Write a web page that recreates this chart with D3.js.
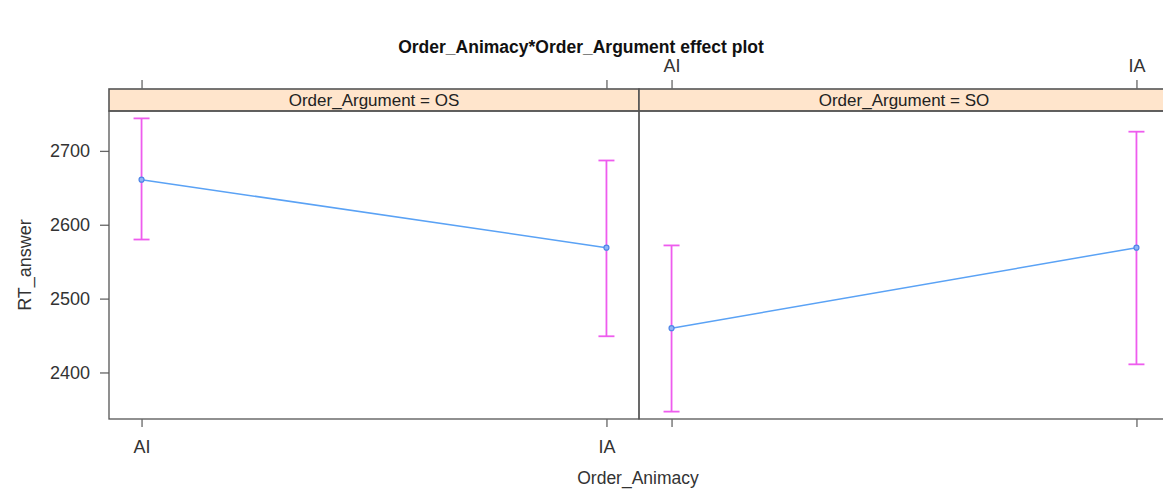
<!DOCTYPE html>
<html>
<head>
<meta charset="utf-8">
<script src="https://cdn.jsdelivr.net/npm/d3@7"></script>
<style>
  html, body { margin: 0; padding: 0; background: #fff; }
  svg { display: block; font-family: "Liberation Sans", Arial, sans-serif; }
</style>
</head>
<body>
<svg id="chart" width="1163" height="490"></svg>
<script>
const categories = ["AI", "IA"];
const panels = ["OS", "SO"];
const fitOS = [2661, 2569];
const lowerOS = [2580, 2449];
const upperOS = [2744, 2687];
const fitSO = [2460, 2569];
const lowerSO = [2347, 2411];
const upperSO = [2572, 2726];
const yTicks = [2400, 2500, 2600, 2700];

const panelData = [
  { name: panels[0], fit: fitOS, lower: lowerOS, upper: upperOS },
  { name: panels[1], fit: fitSO, lower: lowerSO, upper: upperSO }
];

const svg = d3.select("#chart");
const left = 109, panelW = 530, stripTop = 89, stripH = 22;
const plotTop = stripTop + stripH, plotBottom = 419;
const axisCol = "#666";
const textCol = "#333";
const FONT = "Liberation Sans, Arial, sans-serif";

const y = d3.scaleLinear().domain([2337, 2754]).range([plotBottom, plotTop]);

// title
svg.append("text")
  .attr("x", 581).attr("y", 53)
  .attr("text-anchor", "middle")
  .attr("font-size", 17.5).attr("font-weight", "bold")
  .attr("fill", "#111")
  .text("Order_Animacy*Order_Argument effect plot");

// y axis
const yAxis = d3.axisLeft(y).tickValues(yTicks).tickFormat(d3.format("d")).tickSize(9).tickPadding(10);
const ya = svg.append("g").attr("transform", `translate(${left},0)`).call(yAxis);
ya.attr("font-size", null).attr("font-family", null);
ya.select(".domain").remove();
ya.selectAll("line").attr("stroke", axisCol).attr("stroke-width", 1.3);
ya.selectAll("text").attr("font-size", 18).attr("fill", textCol).attr("font-family", FONT);

svg.append("text")
  .attr("transform", `translate(31,${(plotTop + plotBottom) / 2}) rotate(-90)`)
  .attr("text-anchor", "middle")
  .attr("font-size", 18).attr("fill", textCol)
  .text("RT_answer");

svg.append("text")
  .attr("x", 638).attr("y", 484)
  .attr("text-anchor", "middle")
  .attr("font-size", 17.5).attr("fill", textCol)
  .text("Order_Animacy");

panelData.forEach((p, i) => {
  const x0 = left + i * panelW;
  const x = d3.scalePoint().domain(categories).range([x0, x0 + panelW]).padding(0.07);
  const g = svg.append("g");

  // bottom axis
  const bAxis = d3.axisBottom(x).tickSize(8).tickPadding(13);
  const ba = svg.append("g").attr("transform", `translate(0,${plotBottom})`).call(bAxis);
  ba.attr("font-size", null).attr("font-family", null);
  ba.select(".domain").remove();
  ba.selectAll("line").attr("stroke", axisCol).attr("stroke-width", 1.3);
  ba.selectAll("text").attr("font-size", 18).attr("fill", textCol).attr("font-family", FONT)
    .style("display", i === 0 ? null : "none");

  // top axis
  const tAxis = d3.axisTop(x).tickSize(9).tickPadding(8);
  const ta = svg.append("g").attr("transform", `translate(0,${stripTop})`).call(tAxis);
  ta.attr("font-size", null).attr("font-family", null);
  ta.select(".domain").remove();
  ta.selectAll("line").attr("stroke", axisCol).attr("stroke-width", 1.3);
  ta.selectAll("text").attr("font-size", 18).attr("fill", textCol).attr("font-family", FONT)
    .style("display", i === 1 ? null : "none");

  // strip
  g.append("rect")
    .attr("x", x0).attr("y", stripTop).attr("width", panelW).attr("height", stripH)
    .attr("fill", "#ffe5cc").attr("stroke", "#555").attr("stroke-width", 1.6);
  g.append("text")
    .attr("x", x0 + panelW / 2).attr("y", stripTop + 17)
    .attr("text-anchor", "middle").attr("font-size", 17).attr("fill", "#222")
    .text("Order_Argument = " + p.name);

  // panel frame
  g.append("rect")
    .attr("x", x0).attr("y", plotTop).attr("width", panelW).attr("height", plotBottom - plotTop)
    .attr("fill", "none").attr("stroke", "#555").attr("stroke-width", 1.3);

  // line
  const line = d3.line().x((d, j) => x(categories[j])).y(d => y(d));
  g.append("path").datum(p.fit)
    .attr("d", line).attr("fill", "none")
    .attr("stroke", "#5aa2f5").attr("stroke-width", 1.5);

  // error bars
  categories.forEach((c, j) => {
    const cx = x(c);
    g.append("line").attr("x1", cx).attr("x2", cx)
      .attr("y1", y(p.lower[j])).attr("y2", y(p.upper[j]))
      .attr("stroke", "#ee5cee").attr("stroke-width", 1.8);
    [p.lower[j], p.upper[j]].forEach(v => {
      g.append("line").attr("x1", cx - 8).attr("x2", cx + 8)
        .attr("y1", y(v)).attr("y2", y(v))
        .attr("stroke", "#ee5cee").attr("stroke-width", 1.8);
    });
  });

  // points
  g.selectAll(".pt").data(p.fit).enter().append("circle")
    .attr("cx", (d, j) => x(categories[j])).attr("cy", d => y(d))
    .attr("r", 2.5).attr("fill", "#8fb5f5")
    .attr("stroke", "#4f86e8").attr("stroke-width", 1.2);
});
</script>
</body>
</html>
